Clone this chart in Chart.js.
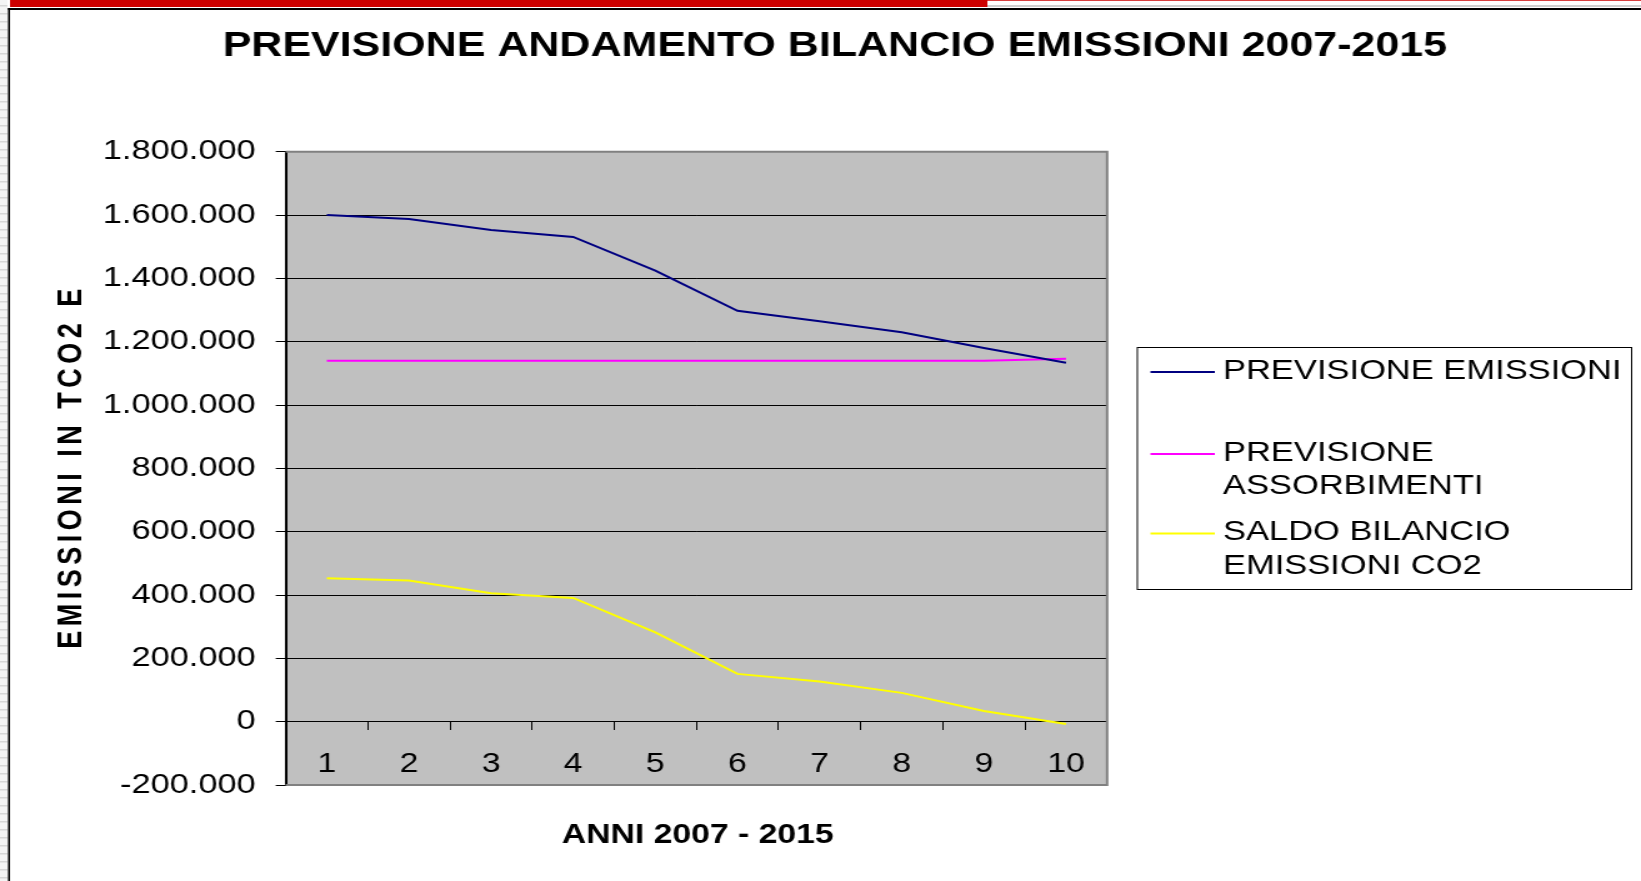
<!DOCTYPE html>
<html>
<head>
<meta charset="utf-8">
<title>Previsione andamento bilancio emissioni 2007-2015</title>
<script src="https://cdn.jsdelivr.net/npm/chart.js@4.4.1/dist/chart.umd.min.js"></script>
<style>
  html, body { margin: 0; padding: 0; background: #fff; overflow: hidden; }
</style>
</head>
<body>
<!-- the source picture is stretched sideways, so the canvas is drawn narrower and widened by css -->
<canvas id="chart" width="1313" height="881" style="width:1641px;height:881px;display:block"></canvas>
<script>
const anni = ['1', '2', '3', '4', '5', '6', '7', '8', '9', '10'];
const previsioneEmissioni = [1600000, 1588000, 1553000, 1531000, 1425000, 1298000, 1265000, 1230000, 1180000, 1134000];
const previsioneAssorbimenti = [1140000, 1140000, 1140000, 1140000, 1140000, 1140000, 1140000, 1140000, 1140000, 1146000];
const saldoBilancio = [453000, 446000, 406000, 391000, 282000, 151000, 127000, 91000, 34000, -7000];

const legendLines = [
  ['PREVISIONE EMISSIONI'],
  ['PREVISIONE', 'ASSORBIMENTI'],
  ['SALDO BILANCIO', 'EMISSIONI CO2']
];
const seriesColors = ['#000080', '#FF00FF', '#FFFF00'];

const yMin = -200000;
const yMax = 1800000;
const yStep = 200000;

const chartTitle = 'PREVISIONE ANDAMENTO BILANCIO EMISSIONI 2007-2015';
const xTitle = 'ANNI 2007 - 2015';
const yTitle = 'EMISSIONI IN TCO2 E';

const FONT = '"Liberation Sans", Arial, sans-serif';

// 1.800.000 style numbers
function itNumber(v) {
  const s = String(Math.abs(v)).replace(/\B(?=(\d{3})+(?!\d))/g, '.');
  return (v < 0 ? '-' : '') + s;
}

const sheetDecor = {
  id: 'sheetDecor',
  beforeDraw(chart) {
    const { ctx, chartArea: a, width, height } = chart;
    ctx.save();
    // spreadsheet rows peeking at the left edge
    ctx.fillStyle = '#f4f4f4';
    ctx.fillRect(0, 0, 6, height);
    ctx.fillStyle = '#d6d6d6';
    for (let y = 5; y < height; y += 8) ctx.fillRect(0, y, 6, 1.5);
    // red band + frame
    ctx.fillStyle = '#cc0000';
    ctx.fillRect(8, 0, 782, 7);
    ctx.fillStyle = '#d84040';
    ctx.fillRect(790, 0, width - 790, 1);
    ctx.fillStyle = '#cfcfcf';
    ctx.fillRect(790, 5, width - 790, 2);
    ctx.fillStyle = '#000';
    ctx.fillRect(6.4, 8, width, 2);
    ctx.fillRect(6.4, 8, 1.6, height);
    // plot area
    ctx.fillStyle = '#c0c0c0';
    ctx.fillRect(a.left, a.top, a.width, a.height);
    ctx.restore();
  },
  afterDraw(chart) {
    const { ctx, chartArea: a } = chart;
    ctx.save();

    // plot border
    ctx.strokeStyle = '#808080';
    ctx.lineWidth = 2;
    ctx.beginPath();
    ctx.moveTo(a.left, a.top);
    ctx.lineTo(a.right, a.top);
    ctx.lineTo(a.right, a.bottom);
    ctx.lineTo(a.left, a.bottom);
    ctx.stroke();

    ctx.fillStyle = '#000';
    ctx.textAlign = 'center';
    ctx.textBaseline = 'alphabetic';

    ctx.font = 'bold 34.4px ' + FONT;
    ctx.fillText(chartTitle, 668, 56);

    ctx.font = 'bold 27px ' + FONT;
    ctx.fillText(xTitle, (a.left + a.right) / 2 + 1, 843);

    ctx.save();
    ctx.translate(55, (a.top + a.bottom) / 2);
    ctx.rotate(-Math.PI / 2);
    ctx.letterSpacing = '4.5px';
    ctx.fillText(yTitle, 2, 9.7);
    ctx.restore();

    // legend
    const box = { x: 910, y: 347.5, w: 395.5, h: 242 };
    ctx.fillStyle = '#fff';
    ctx.fillRect(box.x, box.y, box.w, box.h);
    ctx.strokeStyle = '#000';
    ctx.lineWidth = 1;
    ctx.strokeRect(box.x, box.y, box.w, box.h);

    const itemTop = [369, 451, 530.5];
    const lineGap = 33.5;
    ctx.font = '27.6px ' + FONT;
    ctx.textAlign = 'left';
    chart.data.datasets.forEach((ds, i) => {
      ctx.strokeStyle = ds.borderColor;
      ctx.lineWidth = 2;
      ctx.beginPath();
      ctx.moveTo(920.5, itemTop[i] + 3);
      ctx.lineTo(972, itemTop[i] + 3);
      ctx.stroke();
      ctx.fillStyle = '#000';
      legendLines[i].forEach((t, k) => {
        ctx.fillText(t, 978.5, itemTop[i] + k * lineGap + 9.9);
      });
    });

    ctx.restore();
  }
};

new Chart(document.getElementById('chart'), {
  type: 'line',
  data: {
    labels: anni,
    datasets: [
      { label: legendLines[0].join(' '), data: previsioneEmissioni, borderColor: seriesColors[0] },
      { label: legendLines[1].join(' '), data: previsioneAssorbimenti, borderColor: seriesColors[1] },
      { label: legendLines[2].join(' '), data: saldoBilancio, borderColor: seriesColors[2] }
    ]
  },
  options: {
    responsive: false,
    animation: false,
    layout: {
      padding: { left: 0, right: 427.2, top: 151.8, bottom: 96 }
    },
    elements: {
      point: { radius: 0, hoverRadius: 0 },
      line: { borderWidth: 2, tension: 0, fill: false }
    },
    plugins: {
      legend: { display: false },
      title: { display: false },
      tooltip: { enabled: false }
    },
    scales: {
      x: {
        type: 'category',
        offset: true,
        position: { y: 0 },
        grid: { offset: true, drawOnChartArea: false, drawTicks: true, tickLength: 8, color: '#000', lineWidth: 1 },
        border: { display: true, color: '#000', width: 1 },
        ticks: {
          padding: 19,
          color: '#000',
          maxRotation: 0,
          autoSkip: false,
          font: { family: FONT, size: 27 }
        }
      },
      y: {
        min: yMin,
        max: yMax,
        grid: { color: '#000', lineWidth: 1, tickLength: 8 },
        border: { display: true, color: '#000', width: 2 },
        ticks: {
          stepSize: yStep,
          padding: 16,
          color: '#000',
          font: { family: FONT, size: 27.5 },
          callback: v => itNumber(v)
        },
        afterFit(scale) { scale.width = 228.6; }
      }
    }
  },
  plugins: [sheetDecor]
});
</script>
</body>
</html>
